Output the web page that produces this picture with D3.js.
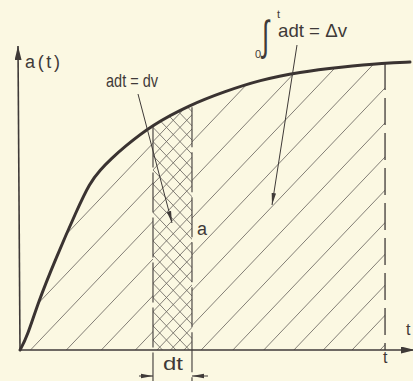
<!DOCTYPE html>
<html>
<head>
<meta charset="utf-8">
<script src="https://cdn.jsdelivr.net/npm/d3@7"></script>
<style>
  html, body { margin: 0; padding: 0; background: #fbf8e2; }
  svg { display: block; }
  text { font-family: "Liberation Sans Narrow", "Arial Narrow", "Liberation Sans", Arial, sans-serif; fill: #3f3a38; }
</style>
</head>
<body>
<div id="chart"></div>
<script>
// curve a(t)
const tValues = [0, 0.18, 0.46, 0.90, 1.46, 1.79, 2.05, 2.36, 2.64, 3.38, 4.36, 5.21, 6.15, 7.18, 8.21, 9.36, 10];
const aValues = [0, 0.043, 0.157, 0.30, 0.467, 0.557, 0.60, 0.64, 0.673, 0.75, 0.817, 0.86, 0.90, 0.927, 0.943, 0.957, 0.96];
const strip = [3.41, 4.41];   // dt
const tEnd = 9.36;            // upper limit t

const width = 413, height = 381;
const ink = "#3f3a38", hatchInk = "#6d6862";

const x = d3.scaleLinear().domain([0, 10]).range([20, 410]);
const y = d3.scaleLinear().domain([0, 1]).range([350, 50]);

const data = tValues.map((t, i) => ({t: t, a: aValues[i]}));
const inside = data.filter(d => d.t <= tEnd);
const curve = d3.curveBasis;

const svg = d3.select("#chart").append("svg")
    .attr("width", width)
    .attr("height", height);

const defs = svg.append("defs");

defs.append("marker")
    .attr("id", "head")
    .attr("viewBox", "0 0 12 6")
    .attr("refX", 12).attr("refY", 3)
    .attr("markerWidth", 12).attr("markerHeight", 6)
    .attr("markerUnits", "userSpaceOnUse")
    .attr("orient", "auto")
  .append("path")
    .attr("d", "M0,0.8L12,3L0,5.2Z")
    .attr("fill", ink);

defs.append("marker")
    .attr("id", "axisHead")
    .attr("viewBox", "0 0 14 7")
    .attr("refX", 14).attr("refY", 3.5)
    .attr("markerWidth", 14).attr("markerHeight", 7)
    .attr("markerUnits", "userSpaceOnUse")
    .attr("orient", "auto")
  .append("path")
    .attr("d", "M0,0L14,3.5L0,7Z")
    .attr("fill", ink);

const area = d3.area()
    .x(d => x(d.t))
    .y0(y(0))
    .y1(d => y(d.a))
    .curve(curve);

defs.append("clipPath").attr("id", "underCurve")
  .append("path").attr("d", area(inside));

const outside = defs.append("clipPath").attr("id", "outsideStrip");
outside.append("rect")
    .attr("x", x(0)).attr("y", 0)
    .attr("width", x(strip[0]) - x(0)).attr("height", y(0));
outside.append("rect")
    .attr("x", x(strip[1])).attr("y", 0)
    .attr("width", x(tEnd) - x(strip[1])).attr("height", y(0));

defs.append("clipPath").attr("id", "inStrip")
  .append("rect")
    .attr("x", x(strip[0])).attr("y", 0)
    .attr("width", x(strip[1]) - x(strip[0])).attr("height", y(0));

// hatching: hand drawn, spacing opens up a little towards the left
const slope = 1.05, hatchTop = 20;
let starts = [], sx = x(tEnd) - 5;
while (sx > -120) {
    starts.push(sx);
    sx -= 28 + (x(tEnd) - 5 - sx) * 0.025;
}

const hatch = svg.append("g").attr("clip-path", "url(#underCurve)")
    .attr("stroke", hatchInk).attr("stroke-width", 0.85).attr("fill", "none");

hatch.append("g").attr("clip-path", "url(#outsideStrip)")
  .selectAll("line").data(starts).join("line")
    .attr("x1", d => d).attr("y1", y(0))
    .attr("x2", d => d + (y(0) - hatchTop) / slope).attr("y2", hatchTop);

const cross = hatch.append("g").attr("clip-path", "url(#inStrip)");
const step = 13.5;
const up = d3.range(x(strip[0]) - 320, x(strip[1]) + step, step);
const down = d3.range(x(strip[0]) - 4, x(strip[1]) + 320, step);
cross.selectAll("line.up").data(up).join("line").attr("class", "up")
    .attr("x1", d => d).attr("y1", y(0))
    .attr("x2", d => d + (y(0) - hatchTop) / slope).attr("y2", hatchTop);
cross.selectAll("line.down").data(down).join("line").attr("class", "down")
    .attr("x1", d => d).attr("y1", y(0))
    .attr("x2", d => d - (y(0) - hatchTop) / slope).attr("y2", hatchTop);

// strip edges, carried below the axis for the dt dimension
const curveAt = t => {
    const i = d3.bisector(d => d.t).left(data, t);
    const a = data[i - 1], b = data[i];
    return a.a + (b.a - a.a) * (t - a.t) / (b.t - a.t);
};
svg.append("g").selectAll("line").data(strip).join("line")
    .attr("x1", d => x(d)).attr("x2", d => x(d))
    .attr("y1", d => y(curveAt(d)) + 3).attr("y2", height)
    .attr("stroke", ink).attr("stroke-width", 1.1)
    .attr("stroke-dasharray", "40,5");

// limit t
svg.append("line")
    .attr("x1", x(tEnd)).attr("x2", x(tEnd))
    .attr("y1", y(curveAt(tEnd - 0.01))).attr("y2", y(0))
    .attr("stroke", ink).attr("stroke-width", 1.3)
    .attr("stroke-dasharray", "27,8");

// axes
svg.append("line")
    .attr("x1", x(0)).attr("y1", y(0)).attr("x2", x(0) - 2).attr("y2", 46)
    .attr("stroke", ink).attr("stroke-width", 1.6)
    .attr("marker-end", "url(#axisHead)");
svg.append("line")
    .attr("x1", x(0)).attr("y1", y(0)).attr("x2", width + 2).attr("y2", y(0))
    .attr("stroke", ink).attr("stroke-width", 1.6)
    .attr("marker-end", "url(#axisHead)");

// a(t)
svg.append("path")
    .datum(data)
    .attr("d", d3.line().x(d => x(d.t)).y(d => y(d.a)).curve(curve))
    .attr("fill", "none")
    .attr("stroke", "#3a3331")
    .attr("stroke-width", 3)
    .attr("stroke-linecap", "round");

// leaders
const leaders = [
    {from: [138, 94], to: [172, 223]},
    {from: [297, 45], to: [272, 205]}
];
svg.append("g").selectAll("line").data(leaders).join("line")
    .attr("x1", d => d.from[0]).attr("y1", d => d.from[1])
    .attr("x2", d => d.to[0]).attr("y2", d => d.to[1])
    .attr("stroke", ink).attr("stroke-width", 1)
    .attr("marker-end", "url(#head)");

// dt dimension arrows
svg.append("line")
    .attr("x1", x(strip[0]) - 14).attr("x2", x(strip[0])).attr("y1", 376).attr("y2", 376)
    .attr("stroke", ink).attr("stroke-width", 1).attr("marker-end", "url(#head)");
svg.append("line")
    .attr("x1", x(strip[1]) + 16).attr("x2", x(strip[1])).attr("y1", 376).attr("y2", 376)
    .attr("stroke", ink).attr("stroke-width", 1).attr("marker-end", "url(#head)");

// labels
const label = (tx, ty, s, size, len, adjust) => {
    const t = svg.append("text").attr("x", tx).attr("y", ty)
        .attr("font-size", size).text(s);
    if (len) t.attr("textLength", len).attr("lengthAdjust", adjust || "spacingAndGlyphs");
    return t;
};
label(25, 68, "a(t)", 18, 35, "spacing");
label(106, 87, "adt = dv", 19, 52);
label(197, 235, "a", 18);
label(163, 370, "dt", 18, 20);
label(406, 335, "t", 16);
label(383, 363, "t", 16);

// integral
svg.append("text")
    .attr("transform", "translate(262,50) scale(0.95,1.55)")
    .style("font-family", "'Liberation Sans'")
    .attr("font-size", 27).text("∫");
label(255, 58, "0", 11);
label(277, 18, "t", 11);
label(278, 37, "adt = Δv", 19, 69);
</script>
</body>
</html>
